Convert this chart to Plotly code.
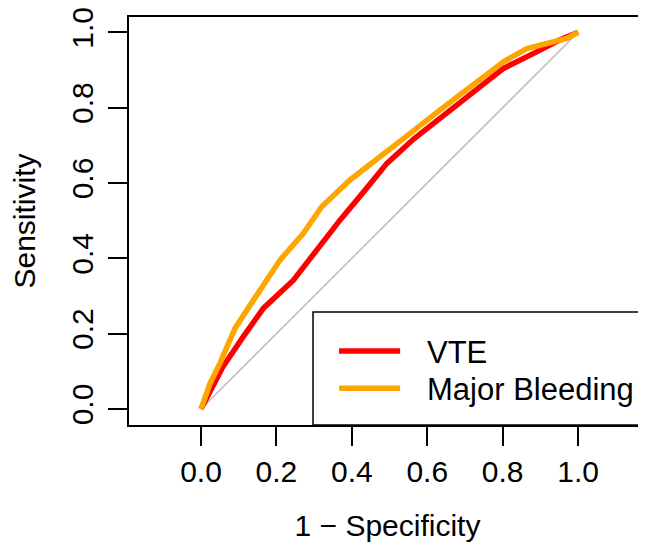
import plotly.graph_objects as go

# ROC curve data (1 - specificity, sensitivity)
vte_fpr = [0.0, 0.032, 0.058, 0.112, 0.165, 0.245, 0.307, 0.369, 0.435, 0.493, 0.563, 0.652, 0.731, 0.802, 0.89, 0.952, 1.0]
vte_tpr = [0.0, 0.059, 0.112, 0.192, 0.267, 0.342, 0.422, 0.502, 0.581, 0.652, 0.716, 0.785, 0.847, 0.904, 0.948, 0.98, 1.0]

mb_fpr = [0.0, 0.024, 0.05, 0.068, 0.09, 0.139, 0.21, 0.271, 0.32, 0.395, 0.466, 0.546, 0.634, 0.71, 0.802, 0.864, 0.926, 0.97, 1.0]
mb_tpr = [0.0, 0.068, 0.121, 0.165, 0.214, 0.289, 0.396, 0.466, 0.537, 0.608, 0.665, 0.725, 0.794, 0.85, 0.922, 0.957, 0.971, 0.984, 1.0]

diag = [0.0, 1.0]

series_names = ["VTE", "Major Bleeding"]
series_colors = ["#FF0000", "#FFA500"]

tick_vals = [0.0, 0.2, 0.4, 0.6, 0.8, 1.0]
tick_text = ["0.0", "0.2", "0.4", "0.6", "0.8", "1.0"]

FONT = "Liberation Sans, Arial, sans-serif"

fig = go.Figure()
fig.add_trace(go.Scatter(x=diag, y=diag, mode="lines",
                         line=dict(color="#BEBEBE", width=1.5), showlegend=False, hoverinfo="skip"))
fig.add_trace(go.Scatter(x=vte_fpr, y=vte_tpr, mode="lines", name=series_names[0],
                         line=dict(color=series_colors[0], width=5.5), showlegend=False))
fig.add_trace(go.Scatter(x=mb_fpr, y=mb_tpr, mode="lines", name=series_names[1],
                         line=dict(color=series_colors[1], width=5.5), showlegend=False))

# Legend box (extends beyond right edge like reference)
leg_x0 = 0.297
leg_y_top = 0.2575
fig.add_shape(type="rect", xref="x", yref="y", x0=leg_x0, x1=1.5, y0=-0.0425, y1=leg_y_top,
              line=dict(color="black", width=1.5), fillcolor="white", layer="above")
leg_rows_y = [0.159, 0.06]
for name, col, yy in zip(series_names, series_colors, leg_rows_y):
    fig.add_shape(type="line", xref="x", yref="y", x0=0.366, x1=0.528, y0=yy - 0.005, y1=yy - 0.005,
                  line=dict(color=col, width=5.5), layer="above")
    fig.add_annotation(x=0.594, y=yy - 0.008, xref="x", yref="y", text=name, showarrow=False,
                       xanchor="left", yanchor="middle", font=dict(size=31, color="black", family=FONT))

fig.update_xaxes(range=[-0.191, 1.180], tickvals=tick_vals, ticktext=tick_text, automargin=False,
                 showline=True, mirror=True, linecolor="black", linewidth=1.5,
                 ticks="outside", ticklen=19, tickwidth=1.5, tickcolor="black",
                 showgrid=False, zeroline=False, ticklabeloverflow="allow",
                 tickfont=dict(size=30, family=FONT, color="black"),
                 title=dict(text="1 \u2212 Specificity", font=dict(size=30, family=FONT, color="black"), standoff=30))
fig.update_yaxes(range=[-0.0425, 1.0406], tickvals=tick_vals, ticktext=tick_text, automargin=False,
                 showline=True, mirror=False, linecolor="black", linewidth=1.5,
                 ticks="outside", ticklen=19, tickwidth=1.5, tickcolor="black",
                 showgrid=False, zeroline=False, tickangle=-90, ticklabelstandoff=3,
                 ticklabeloverflow="allow",
                 tickfont=dict(size=30, family=FONT, color="black"),
                 title=dict(text="Sensitivity", font=dict(size=30, family=FONT, color="black"), standoff=26))

# page body has an 8px margin, so the figure is offset by 8px; compensate
fig.update_layout(width=638, height=534, margin=dict(l=121, r=0, t=9, b=117),
                  paper_bgcolor="white", plot_bgcolor="white", showlegend=False)

fig.write_html("out.html")
